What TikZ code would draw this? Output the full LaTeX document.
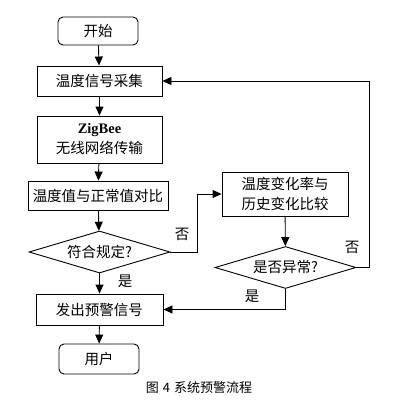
\documentclass[tikz,border=0pt]{standalone}
\usepackage{fontspec}
\setmainfont{Liberation Serif}
\newfontfamily\cjk{Noto Sans CJK SC}
\usepackage{tikz}
\usetikzlibrary{shapes.geometric,arrows.meta}
\tikzset{box/.style={rectangle,draw,line width=0.9pt,inner sep=0pt,align=center,font=\cjk\fontsize{14.5}{20}\selectfont}}
\tikzset{term/.style={box,rounded corners=5pt}}
\tikzset{dia/.style={diamond,draw,aspect=3.3,inner sep=0pt,line width=0.9pt,minimum width=141pt,minimum height=42pt,font=\cjk\fontsize{14.5}{20}\selectfont}}
\tikzset{lab/.style={font=\cjk\fontsize{14.5}{20}\selectfont}}

\begin{document}
\begin{tikzpicture}[x=1pt,y=-1pt,>={Triangle[length=9pt,width=8pt]},line width=0.9pt]
        \useasboundingbox (0,0) rectangle (402,405);
        \node[term,minimum width=80pt,minimum height=28pt] (start) at (98,31) {开始};
        \node[box,minimum width=125pt,minimum height=30pt] (collect) at (99.5,81) {温度信号采集};
        \node[box,minimum width=125pt,minimum height=47pt] (zigbee) at (99.5,139.5) {{\rmfamily\bfseries ZigBee}\\无线网络传输};
        \node[box,minimum width=140pt,minimum height=29pt] (compare) at (98,195.5) {温度值与正常值对比};
        \node[dia] (ok) at (99.5,252) {符合规定?};
        \node[box,minimum width=127pt,minimum height=31pt] (warn) at (99.5,309.5) {发出预警信号};
        \node[term,minimum width=80pt,minimum height=30pt] (user) at (99,359) {用户};
        \node[box,minimum width=126pt,minimum height=44pt] (history) at (285,194) {温度变化率与\\历史变化比较};
        \node[dia] (abn) at (285.5,267.5) {是否异常?};

        \draw [->] (start) to (collect);
        \draw [->] (collect) to (zigbee);
        \draw [->] (zigbee) to (compare);
        \draw [->] (compare) to (ok);
        \draw [->] (ok) to (warn);
        \draw [->] (warn) to (user);
        \draw [->] (ok.east) -- ++(27,0) |- (history.west);
        \draw [->] (history) to (abn);
        \draw [->] (abn.south) |- (warn.east);
        \draw [->] (abn.east) -- ++(13,0) |- (collect.east);

        \node[lab] (no1) at (182,234) {否};
        \node[lab] (no2) at (352,247) {否};
        \node[lab] (yes1) at (125,281) {是};
        \node[lab] (yes2) at (252,296) {是};
        \node[font=\cjk\fontsize{13}{15}\selectfont] (cap) at (199,388) {图\hspace{4pt}4\hspace{4pt}系统预警流程};
    \end{tikzpicture}
\end{document}
